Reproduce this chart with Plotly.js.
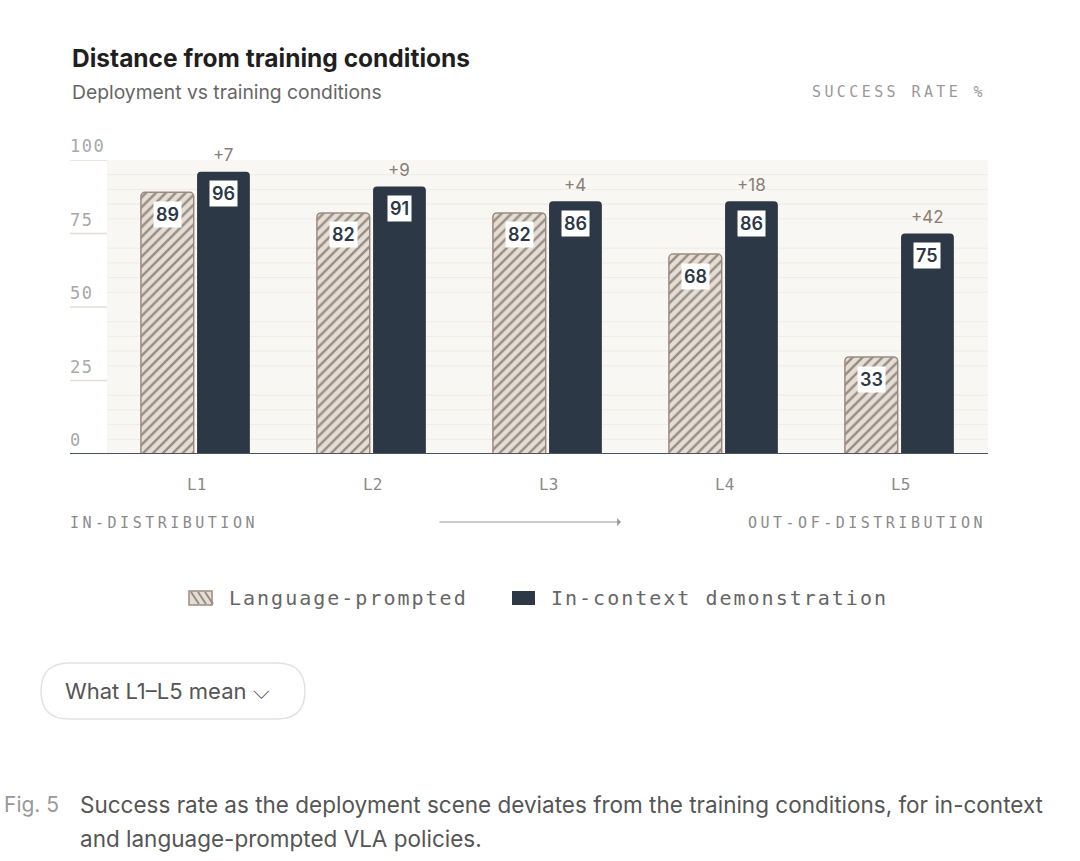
<!DOCTYPE html>
<html><head><meta charset="utf-8">
<script src="https://cdn.plot.ly/plotly-3.0.1.min.js"></script>
<style>body{margin:0;background:#fff}#c{width:1080px;height:861px}</style>
</head><body><div id="c"></div>
<script>
const categories = ["L1","L2","L3","L4","L5"];
const languagePrompted = [89,82,82,68,33];
const inContext = [96,91,86,86,75];
const yTicks = [0,25,50,75,100];

const idx = categories.map((_,i)=>i);
const mono = "DejaVu Sans Mono, Liberation Mono, monospace";
const sans = "Inter, Noto Sans, sans-serif";
const dark = "#2d3846", brown = "#9a8c80";

const traces = [
 {type:"bar", name:"Language-prompted", x:idx, y:languagePrompted, offset:-0.313, width:0.30,
  marker:{color:"#e4ded7", cornerradius:4, line:{color:brown,width:1.5},
   pattern:{shape:"/", fgcolor:brown, bgcolor:"#e4ded7", size:7, solidity:0.35}}, hoverinfo:"skip"},
 {type:"bar", name:"In-context demonstration", x:idx, y:inContext, offset:0.006, width:0.30,
  marker:{color:dark, cornerradius:4}, hoverinfo:"skip"}
];

const W=918, H=294, L=70, T=160;
const px=(x)=>(x-L)/W, py=(y)=>(T+H-y)/H;
const spaced = {}; // annotation index -> [letter spacing, left px]
const ann = [];
idx.forEach(i=>{
 ann.push({x:i-0.163,y:languagePrompted[i]-7.5,text:String(languagePrompted[i]),showarrow:false,
  bgcolor:"#fff",borderpad:2,font:{family:sans,size:18,color:dark,weight:600}});
 ann.push({x:i+0.156,y:inContext[i]-7.5,text:String(inContext[i]),showarrow:false,
  bgcolor:"#fff",borderpad:2,font:{family:sans,size:18,color:dark,weight:600}});
 ann.push({x:i+0.156,y:inContext[i]+1.5,yanchor:"bottom",text:"+"+(inContext[i]-languagePrompted[i]),showarrow:false,
  font:{family:sans,size:17,color:"#8a7e72"}});
 ann.push({x:i,y:0,yshift:-30,text:categories[i],showarrow:false,font:{family:mono,size:16,color:"#8a8a8a"}});
});
yTicks.forEach(t=>{
 spaced[ann.length]=[1.5,70];
 ann.push({xref:"paper",x:0,xanchor:"left",y:t,yanchor:"bottom",yshift:2,text:String(t),showarrow:false,
  font:{family:mono,size:17,color:"#a8a8a8"}});
});
function A(x,y,text,font,sp){ if(sp) spaced[ann.length]=[sp,x]; ann.push({xref:"paper",yref:"paper",x:px(x),y:py(y),xanchor:"left",yanchor:"middle",text:text,showarrow:false,font:font}); }
A(70,58,"<b>Distance from training conditions</b>",{family:sans,size:24.5,color:"#1f1f1f"});
A(70,92,"Deployment vs training conditions",{family:sans,size:19.3,color:"#666"});
A(812,92,"SUCCESS RATE %",{family:mono,size:15,color:"#999"},3.4);
A(70,523,"IN-DISTRIBUTION",{family:mono,size:15,color:"#8a8a8a"},3.5);
A(748,523,"OUT-OF-DISTRIBUTION",{family:mono,size:15,color:"#8a8a8a"},3.5);
ann.push({xref:"paper",yref:"paper",axref:"paper",ayref:"paper",x:px(621),y:py(522),ax:px(438),ay:py(522),text:"",showarrow:true,arrowhead:1,arrowsize:1.3,arrowwidth:1,arrowcolor:"#999"});
A(229,598,"Language-prompted",{family:mono,size:20,color:"#666"},2.0);
A(551,598,"In-context demonstration",{family:mono,size:20,color:"#666"},2.0);
A(63,691,"What L1–L5 mean ⌵",{family:sans,size:22,color:"#555"});
A(2,804,"Fig. 5",{family:sans,size:21,color:"#999"});
A(78,804,"Success rate as the deployment scene deviates from the training conditions, for in-context",{family:sans,size:22.5,color:"#555"});
A(78,839,"and language-prompted VLA policies.",{family:sans,size:22.5,color:"#555"});

const shapes = [
 {type:"rect",xref:"x",yref:"y",x0:-0.506,x1:4.5,y0:0,y1:100,fillcolor:"#f9f7f4",line:{width:0},layer:"below"}
];
for(let v=5; v<100; v+=5){ if(v%25) shapes.push({type:"line",xref:"x",yref:"y",x0:-0.506,x1:4.5,y0:v,y1:v,line:{color:"#efebe6",width:1},layer:"below"}); }
yTicks.slice(1).forEach(v=>shapes.push({type:"line",xref:"paper",yref:"y",x0:0,x1:1,y0:v,y1:v,line:{color:"#e5ded5",width:1.5},layer:"below"}));
shapes.push({type:"line",xref:"paper",yref:"y",x0:0,x1:1,y0:0,y1:0,line:{color:"#4a5560",width:2}});
shapes.push({type:"rect",xref:"paper",yref:"paper",x0:px(189),x1:px(212),y0:py(605),y1:py(591),fillcolor:"#e4ded7",line:{color:brown,width:1.5}});
for(let k=0;k<3;k++){ shapes.push({type:"line",xref:"paper",yref:"paper",x0:px(191+k*7),x1:px(199+k*7),y0:py(592),y1:py(604),line:{color:brown,width:2}}); }
shapes.push({type:"rect",xref:"paper",yref:"paper",x0:px(512),x1:px(535),y0:py(605),y1:py(591),fillcolor:dark,line:{width:0}});
function rr(x0,y0,x1,y1,r){
 const X=v=>px(v), Y=v=>py(v);
 return `M${X(x0+r)},${Y(y0)} L${X(x1-r)},${Y(y0)} Q${X(x1)},${Y(y0)} ${X(x1)},${Y(y0+r)} L${X(x1)},${Y(y1-r)} Q${X(x1)},${Y(y1)} ${X(x1-r)},${Y(y1)} L${X(x0+r)},${Y(y1)} Q${X(x0)},${Y(y1)} ${X(x0)},${Y(y1-r)} L${X(x0)},${Y(y0+r)} Q${X(x0)},${Y(y0)} ${X(x0+r)},${Y(y0)} Z`;
}
shapes.push({type:"path",xref:"paper",yref:"paper",path:rr(41,663,305,719,28),line:{color:"#e2e2e2",width:1.5}});

Plotly.newPlot("c",traces,{
 width:1080,height:861,margin:{l:70,r:92,t:160,b:407},
 paper_bgcolor:"#fff",plot_bgcolor:"#fff",showlegend:false,
 xaxis:{range:[-0.716,4.5],showticklabels:false,showgrid:false,zeroline:false,fixedrange:true},
 yaxis:{range:[0,100],showticklabels:false,showgrid:false,zeroline:false,fixedrange:true},
 annotations:ann,shapes:shapes
},{staticPlot:true}).then(gd=>{
 const root = gd.getBoundingClientRect();
 Object.keys(spaced).forEach(k=>{
  const t = gd.querySelector(`g.annotation[data-index="${k}"] text.annotation-text`);
  if(!t) return;
  const s = spaced[k];
  t.style.letterSpacing=s[0]+"px";
  const r=t.getBoundingClientRect();
  const dx = s[1] - (r.left-root.left);
  t.setAttribute("x", parseFloat(t.getAttribute("x")||0)+dx);
 });
});
</script></body></html>
